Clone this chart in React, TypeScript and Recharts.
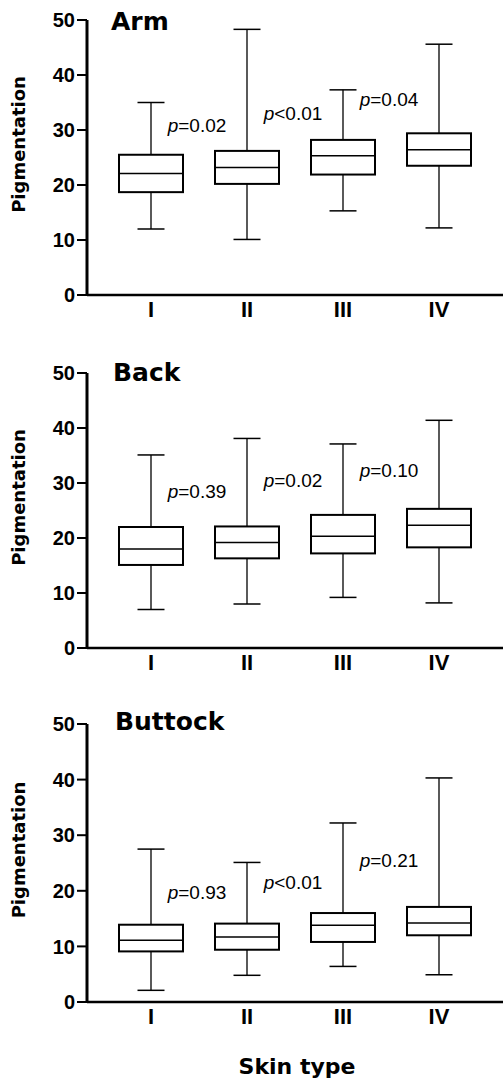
import React from "react";
import { Bar, ComposedChart, ReferenceDot, XAxis, YAxis } from "recharts";

const categories = ["I", "II", "III", "IV"];
const yTicks = [0, 10, 20, 30, 40, 50];

// Arm
const armMin = [12, 10.1, 15.3, 12.2];
const armQ1 = [18.7, 20.2, 21.9, 23.5];
const armMedian = [22.1, 23.2, 25.3, 26.4];
const armQ3 = [25.5, 26.2, 28.2, 29.4];
const armMax = [35, 48.3, 37.3, 45.6];
const armP = ["=0.02", "<0.01", "=0.04"];
const armPy = [29.6, 31.9, 34.4];

// Back
const backMin = [7.0, 8.0, 9.2, 8.2];
const backQ1 = [15.1, 16.3, 17.2, 18.3];
const backMedian = [18.0, 19.2, 20.3, 22.3];
const backQ3 = [22.0, 22.1, 24.2, 25.3];
const backMax = [35.1, 38.1, 37.1, 41.4];
const backP = ["=0.39", "=0.02", "=0.10"];
const backPy = [27.2, 29.3, 31.1];

// Buttock
const buttockMin = [2.1, 4.8, 6.4, 4.9];
const buttockQ1 = [9.1, 9.4, 10.8, 12.0];
const buttockMedian = [11.1, 11.7, 13.8, 14.2];
const buttockQ3 = [13.9, 14.1, 16.0, 17.1];
const buttockMax = [27.5, 25.1, 32.2, 40.3];
const buttockP = ["=0.93", "<0.01", "=0.21"];
const buttockPy = [18.5, 20.4, 24.3];

const SANS = "'Liberation Sans', Arial, Helvetica, sans-serif";
const WIDE = "'DejaVu Sans', Verdana, sans-serif";

function buildRows(min: number[], q1: number[], median: number[], q3: number[], max: number[]) {
	return categories.map((type, i) => ({
		type,
		min: min[i],
		q1: q1[i],
		median: median[i],
		q3: q3[i],
		max: max[i],
	}));
}

function BoxShape(props: any) {
	const { x, y, width, height, payload } = props;
	if (x == null || y == null) return null;
	const top = Math.min(y, y + height);
	const h = Math.abs(height);
	const lo = payload.min;
	const hi = payload.max;
	const toY = (v: number) => top + ((hi - v) / (hi - lo)) * h;
	const cx = x + width / 2;
	const cap = 13.5;
	const yQ3 = toY(payload.q3);
	const yQ1 = toY(payload.q1);
	const yMed = toY(payload.median);
	return (
		<g>
			<line x1={cx} x2={cx} y1={top} y2={yQ3} stroke="#000" strokeWidth={1.3} />
			<line x1={cx} x2={cx} y1={yQ1} y2={top + h} stroke="#000" strokeWidth={1.3} />
			<line x1={cx - cap} x2={cx + cap} y1={top} y2={top} stroke="#000" strokeWidth={1.5} />
			<line x1={cx - cap} x2={cx + cap} y1={top + h} y2={top + h} stroke="#000" strokeWidth={1.5} />
			<rect x={x} y={yQ3} width={width} height={yQ1 - yQ3} fill="#fff" stroke="#000" strokeWidth={2} />
			<line x1={x} x2={x + width} y1={yMed} y2={yMed} stroke="#000" strokeWidth={1.5} />
		</g>
	);
}

function YLabel(props: any) {
	const vb = props.viewBox || {};
	const cy = vb.y + vb.height / 2 - 13;
	return (
		<text
			x={25}
			y={cy}
			transform={`rotate(-90, 25, ${cy})`}
			textAnchor="middle"
			fontFamily={WIDE}
			fontWeight={700}
			fontSize={18}
			fill="#000"
		>
			Pigmentation
		</text>
	);
}

function SkinTypeLabel(props: any) {
	const vb = props.viewBox || {};
	return (
		<text
			x={vb.x + vb.width / 2 + 2}
			y={vb.y + 71.5}
			textAnchor="middle"
			fontFamily={WIDE}
			fontWeight={700}
			fontSize={22}
			fill="#000"
		>
			Skin type
		</text>
	);
}

interface PanelProps {
	title: string;
	titleLeft: number;
	titleTop: number;
	top: number;
	height: number;
	marginTop: number;
	xAxisHeight: number;
	rows: ReturnType<typeof buildRows>;
	pText: string[];
	pY: number[];
	showXLabel?: boolean;
}

function Panel({
	title,
	titleLeft,
	titleTop,
	top,
	height,
	marginTop,
	xAxisHeight,
	rows,
	pText,
	pY,
	showXLabel,
}: PanelProps) {
	return (
		<div style={{ position: "absolute", left: 0, top, width: 503, height }}>
			<ComposedChart
				width={503}
				height={height}
				data={rows}
				margin={{ top: marginTop, right: 0, left: 0, bottom: 0 }}
			>
				<XAxis
					dataKey="type"
					type="category"
					height={xAxisHeight}
					padding={{ left: 16, right: 16 }}
					axisLine={{ stroke: "#000", strokeWidth: 2.5 }}
					tickLine={false}
					tickSize={0}
					tickMargin={6}
					tick={{ fontFamily: SANS, fontWeight: 700, fontSize: 22, fill: "#000" }}
					interval={0}
					label={showXLabel ? (p: any) => <SkinTypeLabel {...p} /> : undefined}
				/>
				<YAxis
					type="number"
					domain={[0, 50]}
					ticks={yTicks}
					width={87}
					axisLine={{ stroke: "#000", strokeWidth: 3 }}
					tickLine={{ stroke: "#000", strokeWidth: 2 }}
					tickSize={10}
					tickMargin={2}
					tick={{ fontFamily: SANS, fontWeight: 700, fontSize: 20, fill: "#000" }}
					label={(p: any) => <YLabel {...p} />}
				/>
				<Bar
					dataKey={(d: any) => [d.min, d.max]}
					barSize={64}
					shape={(p: any) => <BoxShape {...p} />}
					isAnimationActive={false}
				/>
				{pText.map((t, i) => (
					<ReferenceDot
						key={t + i}
						x={categories[i]}
						y={pY[i]}
						r={0}
						ifOverflow="visible"
						shape={(p: any) => (
							<text
								x={p.cx + 46}
								y={p.cy}
								textAnchor="middle"
								fontFamily={SANS}
								fontSize={19}
								fill="#000"
							>
								<tspan fontStyle="italic">p</tspan>
								{t}
							</text>
						)}
					/>
				))}
			</ComposedChart>
			<div
				style={{
					position: "absolute",
					left: titleLeft,
					top: titleTop,
					fontFamily: WIDE,
					fontWeight: 700,
					fontSize: 25,
					lineHeight: 1,
					color: "#000",
					whiteSpace: "nowrap",
				}}
			>
				{title}
			</div>
		</div>
	);
}

export default function App() {
	return (
		<div
			style={{
				position: "absolute",
				left: 0,
				top: 0,
				width: 503,
				height: 1084,
				background: "#fff",
				overflow: "hidden",
			}}
		>
			<Panel
				title="Arm"
				titleLeft={111}
				titleTop={9}
				top={0}
				height={340}
				marginTop={20}
				xAxisHeight={45}
				rows={buildRows(armMin, armQ1, armMedian, armQ3, armMax)}
				pText={armP}
				pY={armPy}
			/>
			<Panel
				title="Back"
				titleLeft={113}
				titleTop={20}
				top={340}
				height={340}
				marginTop={33}
				xAxisHeight={32}
				rows={buildRows(backMin, backQ1, backMedian, backQ3, backMax)}
				pText={backP}
				pY={backPy}
			/>
			<Panel
				title="Buttock"
				titleLeft={115}
				titleTop={29}
				top={680}
				height={404}
				marginTop={44}
				xAxisHeight={82}
				rows={buildRows(buttockMin, buttockQ1, buttockMedian, buttockQ3, buttockMax)}
				pText={buttockP}
				pY={buttockPy}
				showXLabel
			/>
		</div>
	);
}
